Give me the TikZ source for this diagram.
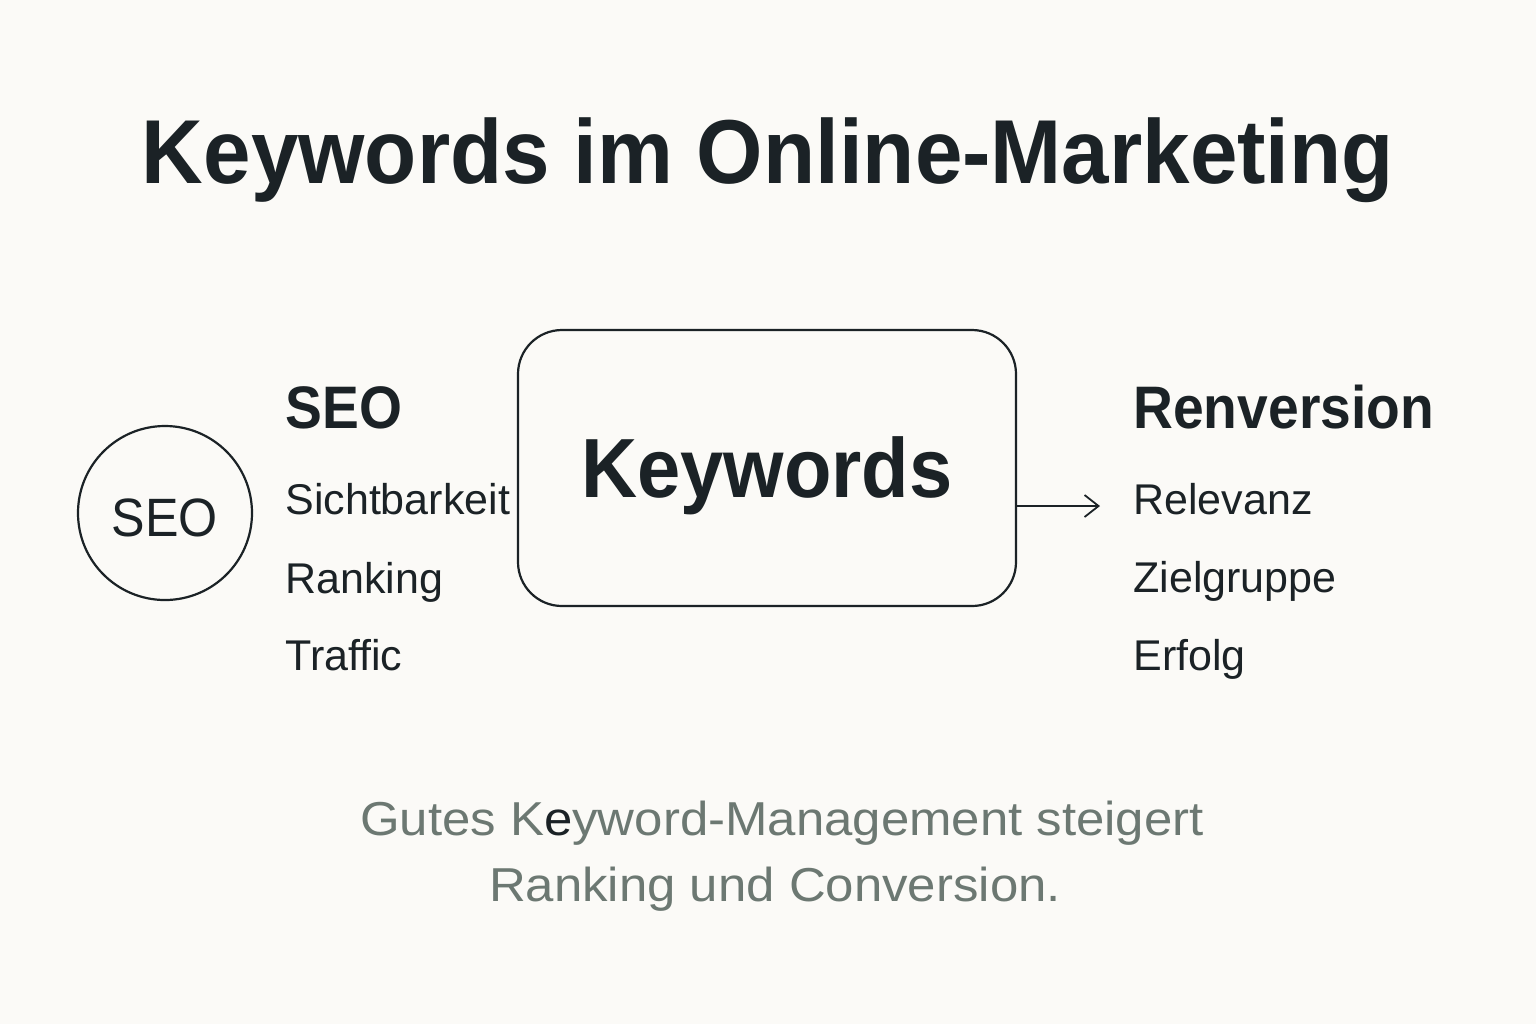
\documentclass[tikz,border=0pt]{standalone}
\usepackage{fontspec}
\setmainfont{Liberation Sans}
\newfontfamily\titlefont[FakeStretch=0.94]{Liberation Sans}
\newfontfamily\boxfont[FakeStretch=0.925]{Liberation Sans}
\newfontfamily\headfont[FakeStretch=0.92]{Liberation Sans}
\newfontfamily\circlefont[FakeStretch=0.93]{Liberation Sans}
\newfontfamily\notefont[FakeStretch=1.07]{Liberation Sans}
\usetikzlibrary{shapes,arrows.meta,positioning}
\definecolor{bgpaper}{HTML}{FBFAF7}
\definecolor{inkdark}{HTML}{1B2226}
\definecolor{notegray}{HTML}{6C7872}

\begin{document}
\begin{tikzpicture}[x=0.5pt,y=-0.5pt]
		\tikzstyle {item text} = [anchor=base west, inner sep=0pt, text=inkdark, font=\fontsize{21.5}{25}\selectfont]
		\tikzstyle {head text} = [anchor=base west, inner sep=0pt, text=inkdark, font=\headfont\fontsize{30}{34}\selectfont\bfseries]
		\tikzstyle {note text} = [anchor=base, inner sep=0pt, text=notegray, font=\notefont\fontsize{23.8}{28}\selectfont]
		\tikzstyle {frame line} = [draw=inkdark, line width=1.1pt]

		\fill[bgpaper] (0,0) rectangle (1536,1024);
		\useasboundingbox (0,0) rectangle (1536,1024);

		% title
		\node (title) [anchor=base, inner sep=0pt, text=inkdark, font=\titlefont\fontsize{45.4}{50}\selectfont\bfseries] at (768,183) {Keywords im Online-Marketing};

		% center box
		\node (kw) [frame line, rounded corners=22pt, minimum width=249pt, minimum height=138pt] at (767,468) {};
		\node (kwlabel) [anchor=base, inner sep=0pt, text=inkdark, font=\boxfont\fontsize{42}{46}\selectfont\bfseries] at (767,497) {Keywords};

		% circle on the left
		\node (seocircle) [frame line, circle, minimum size=87pt, inner sep=0pt] at (165,513) {};
		\node (seolabel) [anchor=base, inner sep=0pt, text=inkdark, font=\circlefont\fontsize{27}{30}\selectfont] at (165,536) {SEO};

		% left list
		\node (seohead) [head text] at (285,428) {SEO};
		\node (sicht) [item text] at (285,514) {Sichtbarkeit};
		\node (rank) [item text] at (285,593) {Ranking};
		\node (traffic) [item text] at (285,670) {Traffic};

		% right list
		\node (convhead) [head text] at (1133,428) {Renversion};
		\node (relevanz) [item text] at (1133,514) {Relevanz};
		\node (ziel) [item text] at (1133,592) {Zielgruppe};
		\node (erfolg) [item text] at (1133,670) {Erfolg};

		\coordinate (arrowend) at (1100,506);
		\draw[inkdark, line width=0.9pt, -{Straight Barb[length=7pt,width=11pt]}] (kw.east |- arrowend) -- (arrowend);

		% note at the bottom
		\node (note1) [note text] at (782,835) {Gutes K{\color{inkdark}e}yword-Management steigert};
		\node (note2) [note text] at (775,901) {Ranking und Conversion.};
\end{tikzpicture}
\end{document}
